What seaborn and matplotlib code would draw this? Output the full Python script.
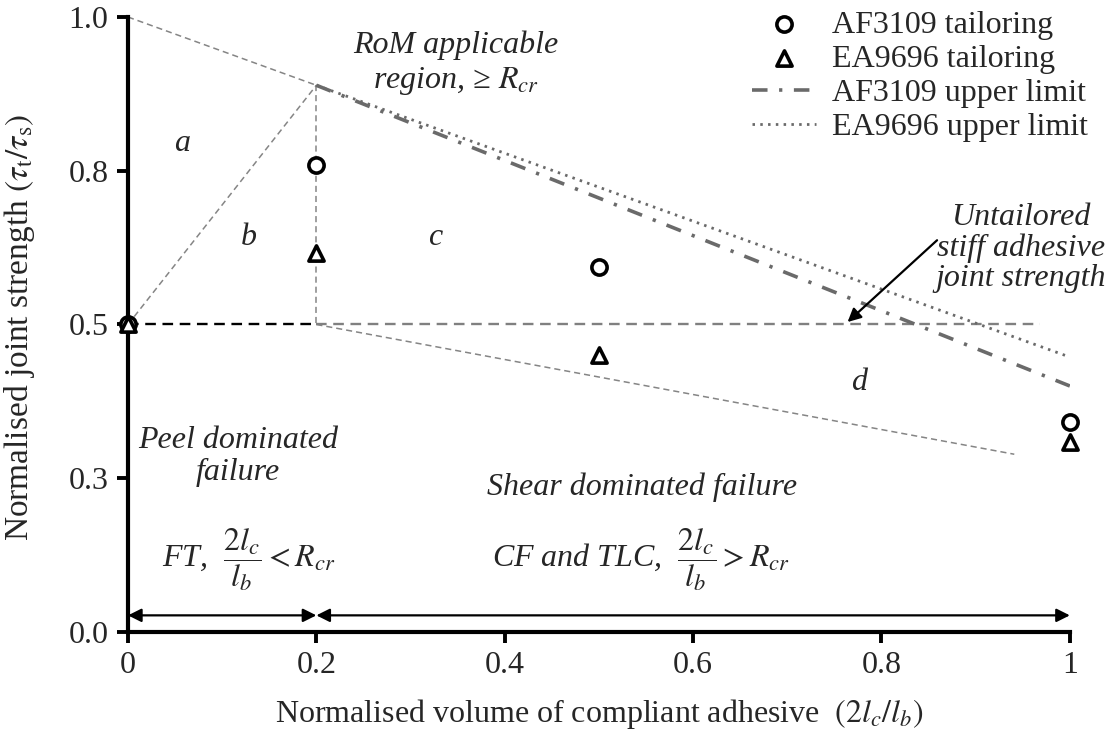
import matplotlib
matplotlib.use("Agg")
import matplotlib.pyplot as plt
import seaborn as sns

# ---------------- data ----------------
x_tailor = [0.0, 0.2, 0.5, 1.0]
af3109_tailoring = [0.50, 0.759, 0.593, 0.342]
ea9696_tailoring = [0.50, 0.616, 0.450, 0.309]

x_limit = [0.2, 1.0]
af3109_upper = [0.889, 0.400]
ea9696_upper = [0.889, 0.447]

# region boundaries (normalised coords)
bound_top_x = [0.0, 0.2]
bound_top_y = [1.0, 0.889]
bound_diag_x = [0.0, 0.2]
bound_diag_y = [0.5, 0.889]
bound_vert_x = [0.2, 0.2]
bound_vert_y = [0.889, 0.5]
bound_low_x = [0.2, 0.941]
bound_low_y = [0.5, 0.289]
untailored_x = [0.2, 0.968]
untailored_y = [0.5, 0.5]
peel_x = [0.0, 0.2]
peel_y = [0.5, 0.5]

xticks = [0, 0.2, 0.4, 0.6, 0.8, 1.0]
xtick_labels = ["0", "0.2", "0.4", "0.6", "0.8", "1"]
yticks = [0.0, 0.25, 0.5, 0.75, 1.0]
ytick_labels = ["0.0", "0.3", "0.5", "0.8", "1.0"]

# ---------------- style ----------------
sns.set_style("ticks")
plt.rcParams["font.family"] = ["Liberation Serif", "DejaVu Serif"]
plt.rcParams["mathtext.fontset"] = "stix"

FS = 23
fig = plt.figure(figsize=(11.12, 7.4), dpi=100)
ax = fig.add_axes([0.1151, 0.146, 0.847, 0.831])

lp = dict(ax=ax, sort=False, estimator=None)
thin = dict(color="#858585", lw=1.1, linestyle=(0, (4.0, 2.6)))
sns.lineplot(x=bound_top_x, y=bound_top_y, legend=False, **lp, **thin)
sns.lineplot(x=bound_diag_x, y=bound_diag_y, legend=False, **lp, **thin)
sns.lineplot(x=bound_vert_x, y=bound_vert_y, legend=False, **lp, **thin)
sns.lineplot(x=bound_low_x, y=bound_low_y, legend=False, **lp, **thin)
sns.lineplot(x=untailored_x, y=untailored_y, legend=False, **lp,
             color="#808080", lw=1.7, linestyle=(0, (4.5, 2.8)))
sns.lineplot(x=peel_x, y=peel_y, legend=False, **lp,
             color="black", lw=1.7, linestyle=(0, (4.5, 2.8)))

sns.scatterplot(x=x_tailor, y=af3109_tailoring, ax=ax, marker="o", s=120,
                color="white", edgecolor="black", linewidth=2.6,
                label="AF3109 tailoring", clip_on=False, zorder=6)
sns.scatterplot(x=x_tailor, y=ea9696_tailoring, ax=ax, marker="^", s=120,
                color="white", edgecolor="black", linewidth=2.6,
                label="EA9696 tailoring", clip_on=False, zorder=6)
sns.lineplot(x=x_limit, y=af3109_upper, **lp, color="#6a6a6a", lw=2.6,
             linestyle=(0, (4.3, 3.2, 0.9, 3.2)), label="AF3109 upper limit")
sns.lineplot(x=x_limit, y=ea9696_upper, **lp, color="#6a6a6a", lw=2.0,
             linestyle=(0, (0.9, 1.9)), label="EA9696 upper limit")

# ---------------- axes ----------------
ax.set_xlim(0, 1)
ax.set_ylim(0, 1)
ax.set_xticks(xticks)
ax.set_xticklabels(xtick_labels)
ax.set_yticks(yticks)
ax.set_yticklabels(ytick_labels)
ax.tick_params(axis="both", direction="out", length=8, width=2.8, labelsize=FS,
               color="black", pad=6)
sns.despine(ax=ax)
for s in ["left", "bottom"]:
    ax.spines[s].set_linewidth(3)
    ax.spines[s].set_color("black")
ax.set_xlabel(r"Normalised volume of compliant adhesive  $(2l_c/l_b)$", fontsize=FS, labelpad=12)
ax.set_ylabel(r"Normalised joint strength $(\tau_\mathrm{t}/\tau_\mathrm{s})$", fontsize=FS + 1)
ax.yaxis.set_label_coords(-0.097, 0.496)

leg = ax.legend(loc="upper left", bbox_to_anchor=(752 / 1112, 0.986),
                bbox_transform=fig.transFigure, frameon=False, fontsize=FS,
                handlelength=2.0, handletextpad=0.5, labelspacing=0.15,
                borderaxespad=0, borderpad=0)

# ---------------- annotations ----------------
it = dict(fontsize=FS, style="italic", ha="center", va="center")
ax.text(0.057, 0.795, "a", **it)
ax.text(0.128, 0.642, "b", **it)
ax.text(0.326, 0.642, "c", **it)
ax.text(0.776, 0.405, "d", **it)
ax.text(0.348, 0.924, "RoM applicable\nregion, ≥ $R_{cr}$", linespacing=1.25, **it)
ax.text(0.948, 0.624, "Untailored\nstiff adhesive\njoint strength", linespacing=1.05, **it)
ax.text(0.117, 0.285, "Peel dominated\nfailure", linespacing=1.15, **it)
ax.text(0.546, 0.236, "Shear dominated failure", **it)
ax.text(0.128, 0.117, r"FT,  $\dfrac{2l_c}{l_b} < R_{cr}$", **it)
ax.text(0.545, 0.117, r"CF and TLC,  $\dfrac{2l_c}{l_b} > R_{cr}$", **it)

ax.annotate("", xy=(0.764, 0.504), xytext=(0.859, 0.637),
            arrowprops=dict(arrowstyle="-|>", color="black", lw=1.6,
                            mutation_scale=20, shrinkA=0, shrinkB=0))
arr = dict(arrowstyle="<|-|>", color="black", lw=1.6, mutation_scale=20, shrinkA=0, shrinkB=0)
ax.annotate("", xy=(0.0, 0.027), xytext=(0.2, 0.027), arrowprops=arr, annotation_clip=False)
ax.annotate("", xy=(0.2, 0.027), xytext=(1.0, 0.027), arrowprops=arr, annotation_clip=False)

fig.savefig("out.png", dpi=100)
